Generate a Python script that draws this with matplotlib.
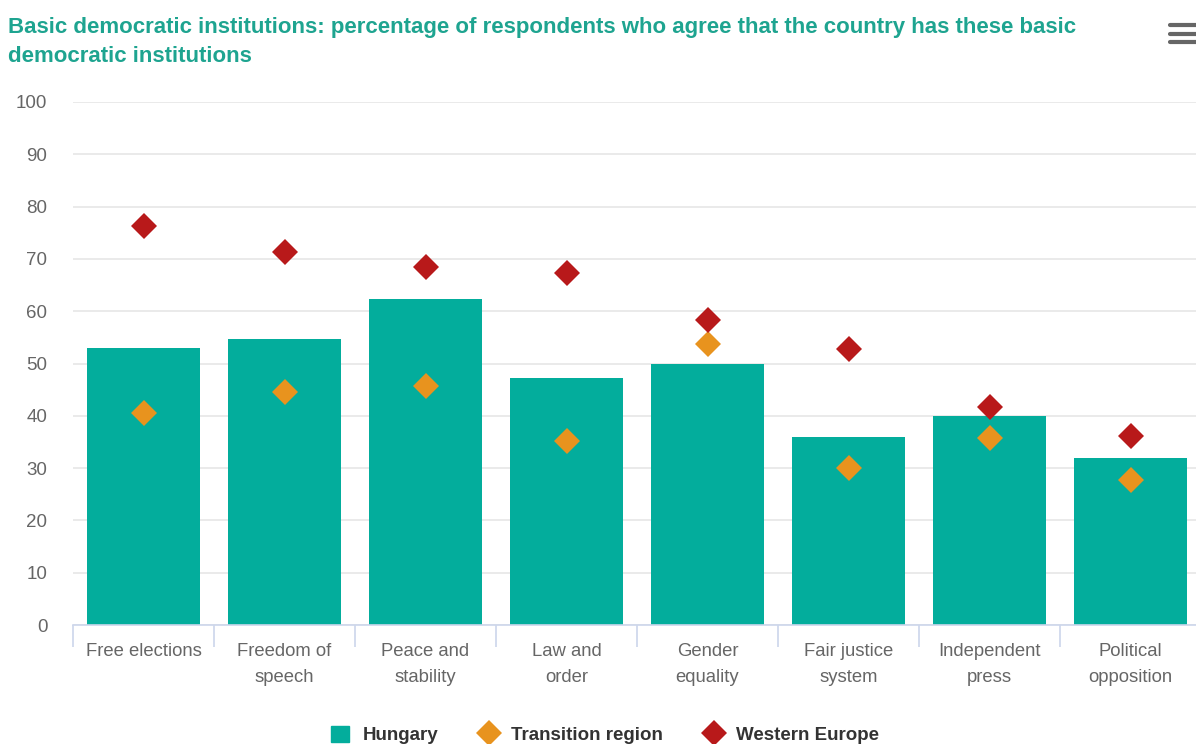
import matplotlib
matplotlib.use("Agg")
import matplotlib.pyplot as plt
from matplotlib.lines import Line2D
from matplotlib.patches import Patch

categories = ["Free elections", "Freedom of\nspeech", "Peace and\nstability", "Law and\norder",
              "Gender\nequality", "Fair justice\nsystem", "Independent\npress", "Political\nopposition"]
hungary = [53, 54.7, 62.3, 47.2, 50, 36, 40, 32]
transition = [40.5, 44.5, 45.7, 35.2, 53.7, 30, 35.8, 27.7]
western = [76.3, 71.3, 68.5, 67.3, 58.3, 52.8, 41.7, 36.1]
y_ticks = [0, 10, 20, 30, 40, 50, 60, 70, 80, 90, 100]
title_lines = ["Basic democratic institutions: percentage of respondents who agree that the country has these basic",
               "democratic institutions"]

TEAL = "#03ad9c"
ORANGE = "#e8931e"
RED = "#b8191a"
TITLE = "#1ea490"

plt.rcParams["font.family"] = ["Liberation Sans", "DejaVu Sans"]

W, H = 1196, 744
fig = plt.figure(figsize=(W / 100, H / 100), dpi=100)
ax = fig.add_axes([73 / W, (H - 625) / H, (1201 - 73) / W, (625 - 102) / H])

x = list(range(len(categories)))
ax.bar(x, hungary, width=0.8, color=TEAL, zorder=2)
ax.plot(x, transition, linestyle="none", marker="D", markersize=13.5, color=ORANGE,
        markeredgewidth=0, zorder=3, clip_on=False)
ax.plot(x, western, linestyle="none", marker="D", markersize=13.5, color=RED,
        markeredgewidth=0, zorder=3, clip_on=False)

ax.set_xlim(-0.5, len(categories) - 0.5)
ax.set_ylim(0, 100)
ax.set_yticks(y_ticks)
ax.set_yticklabels([str(v) for v in y_ticks])
ax.grid(axis="y", color="#e6e6e6", linewidth=1.2, zorder=0)
ax.set_axisbelow(True)

for s in ["top", "right", "left"]:
    ax.spines[s].set_visible(False)
ax.spines["bottom"].set_color("#ccd6eb")
ax.spines["bottom"].set_linewidth(1.2)

# category labels centred between boundary ticks
ax.set_xticks(x)
ax.set_xticklabels(categories, fontsize=13.3, color="#666666", linespacing=1.65)
ax.tick_params(axis="x", length=0, pad=13)
ax.set_xticks([i - 0.5 for i in range(len(categories) + 1)], minor=True)
ax.tick_params(axis="x", which="minor", length=16, color="#ccd6eb", width=1.2)
ax.tick_params(axis="y", length=0, labelsize=13.5, labelcolor="#666666", pad=18.5)

# two-line title
fig.text(8 / W, 1 - 33 / H, title_lines[0], fontsize=16, fontweight="bold", color=TITLE,
         va="baseline", ha="left")
fig.text(8 / W, 1 - 62 / H, title_lines[1], fontsize=16, fontweight="bold", color=TITLE,
         va="baseline", ha="left")

# menu icon
for yy in [25, 33.5, 42]:
    fig.add_artist(Line2D([1170 / W, 1196 / W], [1 - yy / H, 1 - yy / H], color="#666666",
                          linewidth=3, solid_capstyle="round"))

handles = [
    Patch(color=TEAL, label="Hungary"),
    Line2D([], [], linestyle="none", marker="D", markersize=13, color=ORANGE, markeredgewidth=0, label="Transition region"),
    Line2D([], [], linestyle="none", marker="D", markersize=13, color=RED, markeredgewidth=0, label="Western Europe"),
]
fig.legend(handles=handles, loc="center", bbox_to_anchor=(605 / W, 1 - 735 / H), ncol=3,
           frameon=False, prop={"size": 13.5, "weight": "bold"}, labelcolor="#333333",
           handlelength=1.0, handleheight=1.0, columnspacing=2.2, handletextpad=0.7)

fig.savefig("out.png", dpi=100)
